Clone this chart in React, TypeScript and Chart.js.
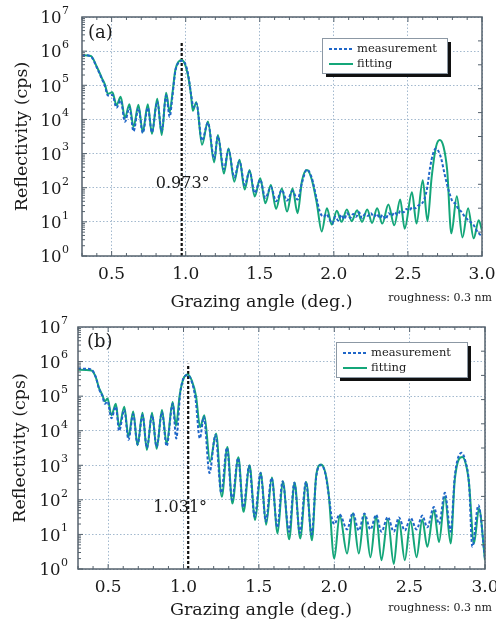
import React, { useEffect, useRef } from 'react';
import { Chart, registerables } from 'chart.js';

Chart.register(...registerables);

// ---------- data ----------
const X_TICKS = [0.5, 1.0, 1.5, 2.0, 2.5, 3.0];
const Y_TICKS = [1, 10, 100, 1e3, 1e4, 1e5, 1e6, 1e7];
const Y_TICK_BASE = '10';
const Y_TICK_EXP = ['0', '1', '2', '3', '4', '5', '6', '7'];
const LEGEND_LABELS = ['measurement', 'fitting'];
const X_TITLE = 'Grazing angle (deg.)';
const Y_TITLE = 'Reflectivity (cps)';
const NOTE = 'roughness: 0.3 nm';

// panel (a)
const A_PEAK = 0.973;
const A_PEAK_LABEL = '0.973°';
const A_FIT_X = [0.30, 0.36, 0.40, 0.435, 0.455, 0.475, 0.505, 0.533, 0.561, 0.59, 0.62, 0.648, 0.681, 0.71, 0.744, 0.772, 0.808, 0.838, 0.868, 0.892, 0.91, 0.93, 0.95, 0.972, 0.995, 1.015, 1.035, 1.048, 1.072, 1.11, 1.15, 1.192, 1.217, 1.258, 1.289, 1.328, 1.363, 1.398, 1.431, 1.466, 1.503, 1.538, 1.575, 1.61, 1.649, 1.684, 1.721, 1.755, 1.785, 1.818, 1.85, 1.885, 1.918, 1.953, 1.986, 2.02, 2.052, 2.088, 2.12, 2.157, 2.19, 2.225, 2.258, 2.292, 2.327, 2.368, 2.408, 2.448, 2.478, 2.527, 2.558, 2.60, 2.632, 2.66, 2.69, 2.715, 2.74, 2.765, 2.793, 2.83, 2.868, 2.906, 2.944, 2.978, 3.0];
const A_FIT_Y = [7.6e5, 7.2e5, 3.5e5, 1.6e5, 1.05e5, 5.6e4, 6.3e4, 2.6e4, 4.6e4, 1.1e4, 2.8e4, 6.0e3, 2.7e4, 4.2e3, 2.8e4, 3.8e3, 4.0e4, 3.5e3, 6.0e4, 1.6e4, 5.6e4, 2.8e5, 4.8e5, 5.5e5, 4.2e5, 2.0e5, 5.6e4, 1.8e4, 3.2e4, 1.8e3, 8.7e3, 5.5e2, 3.5e3, 2.6e2, 1.4e3, 1.5e2, 6.6e2, 89, 3.3e2, 55, 1.9e2, 35, 1.2e2, 24, 95, 20, 95, 18, 1.6e2, 3.3e2, 1.8e2, 35, 5.2, 25, 8.3, 21, 10, 23, 10.5, 22, 10, 23, 9.3, 25, 8.9, 32, 7.9, 45, 6.3, 74, 8.9, 166, 10.5, 200, 1.6e3, 2.5e3, 1.6e3, 3.2e2, 4.6, 56, 3.5, 25, 3.3, 11.2, 5.6];
const A_MEAS_X = [0.30, 0.36, 0.40, 0.435, 0.455, 0.475, 0.505, 0.533, 0.561, 0.59, 0.62, 0.648, 0.681, 0.71, 0.744, 0.772, 0.808, 0.838, 0.868, 0.892, 0.91, 0.93, 0.95, 0.975, 0.998, 1.018, 1.038, 1.052, 1.072, 1.11, 1.15, 1.192, 1.217, 1.258, 1.289, 1.328, 1.363, 1.398, 1.431, 1.466, 1.503, 1.538, 1.575, 1.61, 1.649, 1.684, 1.721, 1.755, 1.785, 1.818, 1.85, 1.885, 1.905, 1.93, 1.95, 1.97, 1.99, 2.01, 2.03, 2.05, 2.07, 2.09, 2.11, 2.13, 2.15, 2.17, 2.19, 2.21, 2.23, 2.25, 2.27, 2.29, 2.31, 2.33, 2.35, 2.37, 2.39, 2.41, 2.43, 2.45, 2.47, 2.49, 2.51, 2.53, 2.55, 2.57, 2.59, 2.61, 2.63, 2.65, 2.67, 2.688, 2.705, 2.725, 2.745, 2.765, 2.785, 2.80, 2.82, 2.84, 2.86, 2.88, 2.90, 2.92, 2.94, 2.96, 2.98, 3.0];
const A_MEAS_Y = [7.7e5, 7.0e5, 3.3e5, 1.5e5, 9.5e4, 5.0e4, 5.2e4, 2.2e4, 3.6e4, 8.5e3, 2.2e4, 4.5e3, 2.1e4, 4.0e3, 2.2e4, 4.2e3, 3.3e4, 4.5e3, 5.0e4, 1.2e4, 4.6e4, 2.6e5, 4.5e5, 5.2e5, 4.2e5, 1.9e5, 4.8e4, 2.3e4, 3.0e4, 2.4e3, 8.0e3, 7.0e2, 3.2e3, 3.5e2, 1.3e3, 2.0e2, 6.0e2, 1.2e2, 3.0e2, 70, 1.7e2, 50, 1.05e2, 40, 85, 42, 80, 45, 1.4e2, 3.4e2, 2.0e2, 45, 20, 14, 17, 12, 9, 14, 11, 16, 12, 18, 13, 17, 14, 19, 13, 17, 15, 18, 14, 17, 13, 16, 12, 18, 15, 19, 16, 21, 19, 24, 22, 27, 25, 30, 33, 45, 1.0e2, 4.0e2, 1.0e3, 1.4e3, 1.2e3, 7.0e2, 2.8e2, 1.2e2, 60, 40, 34, 24, 20, 15, 12, 10, 8.5, 6.0, 4.5, 3.8];

// panel (b)
const B_PEAK = 1.031;
const B_PEAK_LABEL = '1.031°';
const B_FIT_X = [0.30, 0.39, 0.418, 0.44, 0.462, 0.478, 0.496, 0.522, 0.551, 0.573, 0.607, 0.635, 0.666, 0.695, 0.728, 0.757, 0.791, 0.822, 0.857, 0.888, 0.928, 0.95, 0.975, 1.0, 1.028, 1.055, 1.083, 1.11, 1.138, 1.176, 1.216, 1.254, 1.291, 1.324, 1.364, 1.398, 1.438, 1.475, 1.513, 1.548, 1.586, 1.624, 1.659, 1.701, 1.737, 1.774, 1.814, 1.852, 1.88, 1.912, 1.94, 1.963, 2.0, 2.036, 2.085, 2.123, 2.163, 2.20, 2.24, 2.278, 2.313, 2.355, 2.395, 2.429, 2.468, 2.506, 2.546, 2.584, 2.617, 2.661, 2.695, 2.734, 2.772, 2.80, 2.85, 2.875, 2.894, 2.927, 2.96, 3.0];
const B_FIT_Y = [5.8e5, 5.5e5, 3.5e5, 1.7e5, 1.07e5, 7.1e4, 8.5e4, 2.8e4, 6.0e4, 1.3e4, 4.9e4, 6.6e3, 3.6e4, 3.8e3, 3.3e4, 2.8e3, 3.3e4, 3.0e3, 4.0e4, 4.2e3, 6.8e4, 1.4e4, 1.1e5, 3.2e5, 4.2e5, 2.8e5, 1.0e5, 1.26e4, 2.8e4, 1.26e3, 8.3e3, 1.23e2, 3.4e3, 78, 1.7e3, 45, 1.0e3, 26, 6.2e2, 19, 4.4e2, 10.7, 3.5e2, 7.2, 3.2e2, 7.6, 3.3e2, 6.8, 5.0e2, 1.05e3, 6.3e2, 1.5e2, 2.0, 36, 2.8, 40, 2.8, 39, 2.2, 34, 1.8, 27, 1.4, 26, 1.8, 24, 2.2, 27, 4.4, 50, 6.0, 1.23e2, 5.5, 4.0e2, 1.74e3, 1.0e3, 3.0e2, 5.5, 56, 1.8];
const B_MEAS_X = [0.30, 0.35, 0.39, 0.418, 0.44, 0.462, 0.478, 0.496, 0.522, 0.551, 0.573, 0.607, 0.635, 0.666, 0.695, 0.728, 0.757, 0.791, 0.822, 0.857, 0.888, 0.928, 0.952, 0.978, 1.0, 1.025, 1.05, 1.08, 1.108, 1.135, 1.172, 1.212, 1.25, 1.288, 1.322, 1.362, 1.396, 1.436, 1.472, 1.511, 1.546, 1.584, 1.622, 1.657, 1.70, 1.735, 1.772, 1.812, 1.85, 1.88, 1.91, 1.94, 1.965, 1.985, 2.0, 2.036, 2.085, 2.123, 2.163, 2.20, 2.24, 2.278, 2.313, 2.355, 2.395, 2.429, 2.468, 2.506, 2.546, 2.584, 2.617, 2.661, 2.695, 2.734, 2.772, 2.80, 2.845, 2.87, 2.894, 2.916, 2.956, 3.0];
const B_MEAS_Y = [6.3e5, 6.2e5, 5.8e5, 3.6e5, 1.6e5, 1.0e5, 6.0e4, 7.0e4, 2.3e4, 5.0e4, 1.0e4, 4.0e4, 5.5e3, 3.0e4, 4.0e3, 2.8e4, 3.2e3, 2.8e4, 3.4e3, 3.4e4, 3.6e3, 6.0e4, 6.0e3, 1.2e5, 3.3e5, 4.0e5, 3.0e5, 8.0e4, 6.0e3, 2.5e4, 6.0e2, 7.5e3, 1.6e2, 3.2e3, 1.0e2, 1.6e3, 60, 9.5e2, 32, 6.0e2, 24, 4.3e2, 16, 3.4e2, 12, 3.1e2, 11, 3.3e2, 10, 4.5e2, 1.0e3, 6.0e2, 1.2e2, 28, 20, 38, 14, 42, 13, 40, 14, 37, 12, 32, 12, 31, 13, 30, 14, 35, 16, 62, 20, 1.6e2, 12, 5.0e2, 2.3e3, 1.3e3, 3.0e2, 4.4, 70, 2.0];

// ---------- styles ----------
const FONT = '"DejaVu Serif", serif';
const BLUE = '#1f66c8';
const GREEN = '#14a679';
const GRID = '#a3b9ce';
const FRAME = '#55626d';
const TEXT = '#1a1a1a';

const toPoints = (xs: number[], ys: number[]) => xs.map((x, i) => ({ x, y: ys[i] }));

type PanelCfg = {
  top: number; height: number; padTop: number; padRight: number; yWidth: number; xHeight: number;
  yTickPad: number; yTitlePad: number; xTickPad: number; xTitleY: number; noteY: number;
  tag: string; tagX: number; tagY: number;
  peakX: number; peakTop: number; peakText: string; peakTextY: number; peakTextDx: number;
  legend: { left: number; top: number; w: number; h: number };
  measX: number[]; measY: number[]; fitX: number[]; fitY: number[];
};

const PANEL_A: PanelCfg = {
  top: 0, height: 314, padTop: 17, padRight: 14, yWidth: 82, xHeight: 58,
  yTickPad: 13, yTitlePad: 11.5, xTickPad: 8.5, xTitleY: 302, noteY: 298,
  tag: '(a)', tagX: 88, tagY: 33,
  peakX: A_PEAK, peakTop: 1.9e6, peakText: A_PEAK_LABEL, peakTextY: 126, peakTextDx: 1,
  legend: { left: 322, top: 38, w: 125, h: 35 },
  measX: A_MEAS_X, measY: A_MEAS_Y, fitX: A_FIT_X, fitY: A_FIT_Y,
};

const PANEL_B: PanelCfg = {
  top: 314, height: 311, padTop: 13, padRight: 11, yWidth: 78, xHeight: 56,
  yTickPad: 10, yTitlePad: 10, xTickPad: 8, xTitleY: 296, noteY: 294,
  tag: '(b)', tagX: 87, tagY: 28,
  peakX: B_PEAK, peakTop: 8.7e5, peakText: B_PEAK_LABEL, peakTextY: 59, peakTextDx: -8,
  legend: { left: 336, top: 28, w: 131, h: 35 },
  measX: B_MEAS_X, measY: B_MEAS_Y, fitX: B_FIT_X, fitY: B_FIT_Y,
};

function makeDecor(cfg: PanelCfg) {
  return {
    id: 'decor',
    afterDraw(chart: any) {
      const { ctx, chartArea: ca, scales } = chart;
      const xs = scales.x;
      const ys = scales.y;
      const line = (x1: number, y1: number, x2: number, y2: number) => {
        ctx.beginPath(); ctx.moveTo(x1, y1); ctx.lineTo(x2, y2); ctx.stroke();
      };
      ctx.save();
      // frame
      ctx.strokeStyle = FRAME;
      ctx.lineWidth = 1.5;
      ctx.setLineDash([]);
      ctx.strokeRect(ca.left, ca.top, ca.right - ca.left, ca.bottom - ca.top);
      // inner ticks
      ctx.lineWidth = 1;
      for (let k = 3; k <= 30; k++) {
        const px = xs.getPixelForValue(k / 10);
        const len = k % 5 === 0 ? 5 : 3;
        line(px, ca.bottom, px, ca.bottom - len);
        line(px, ca.top, px, ca.top + len);
      }
      for (let e = 0; e < 7; e++) {
        for (let m = 1; m <= 9; m++) {
          const py = ys.getPixelForValue(m * Math.pow(10, e));
          line(ca.left, py, ca.left + (m === 1 ? 5 : 3), py);
        }
      }
      for (let i = 1; i < 10; i++) {
        const py = ca.top + ((ca.bottom - ca.top) * i) / 10;
        line(ca.right, py, ca.right - 4, py);
      }
      // y tick labels 10^n
      ctx.fillStyle = TEXT;
      ctx.textBaseline = 'middle';
      Y_TICKS.forEach((v, i) => {
        const py = ys.getPixelForValue(v);
        const R = ca.left - cfg.yTickPad;
        ctx.font = `11px ${FONT}`;
        const ew = ctx.measureText(Y_TICK_EXP[i]).width;
        ctx.textAlign = 'left';
        ctx.fillText(Y_TICK_EXP[i], R - ew, py - 6);
        ctx.font = `16.5px ${FONT}`;
        ctx.textAlign = 'right';
        ctx.fillText(Y_TICK_BASE, R - ew - 0.5, py + 2);
      });
      // texts
      ctx.textAlign = 'left';
      ctx.font = `18px ${FONT}`;
      ctx.fillText(cfg.tag, cfg.tagX, cfg.tagY);
      ctx.textAlign = 'center';
      ctx.font = `16px ${FONT}`;
      ctx.fillText(cfg.peakText, xs.getPixelForValue(cfg.peakX) + cfg.peakTextDx, ys.getPixelForValue(cfg.peakTextY));
      ctx.font = `17.5px ${FONT}`;
      ctx.fillText(X_TITLE, (ca.left + ca.right) / 2 - 20.5, cfg.xTitleY);
      ctx.textAlign = 'right';
      ctx.font = `11px ${FONT}`;
      ctx.fillText(NOTE, 492, cfg.noteY);
      // legend
      const L = cfg.legend.left, T = cfg.legend.top, W = cfg.legend.w, H = cfg.legend.h;
      ctx.fillStyle = '#111';
      ctx.fillRect(L + 4, T + 4, W, H);
      ctx.fillStyle = '#ffffff';
      ctx.fillRect(L, T, W, H);
      ctx.strokeStyle = '#8c98a4';
      ctx.lineWidth = 1;
      ctx.strokeRect(L + 0.5, T + 0.5, W, H);
      ctx.lineWidth = 2;
      ctx.strokeStyle = BLUE;
      ctx.setLineDash([3, 2]);
      line(L + 7, T + 11, L + 31, T + 11);
      ctx.setLineDash([]);
      ctx.strokeStyle = GREEN;
      line(L + 7, T + 26, L + 31, T + 26);
      ctx.fillStyle = '#222';
      ctx.textAlign = 'left';
      ctx.font = `11.5px ${FONT}`;
      ctx.fillText(LEGEND_LABELS[0], L + 35, T + 11);
      ctx.fillText(LEGEND_LABELS[1], L + 35, T + 26);
      ctx.restore();
    },
  };
}

function Panel({ cfg }: { cfg: PanelCfg }) {
  const ref = useRef<HTMLCanvasElement>(null);
  useEffect(() => {
    const chart = new Chart(ref.current as HTMLCanvasElement, {
      type: 'line',
      data: {
        datasets: [
          {
            label: LEGEND_LABELS[0],
            data: toPoints(cfg.measX, cfg.measY),
            borderColor: BLUE,
            borderWidth: 2,
            borderDash: [3, 2],
            pointRadius: 0,
            cubicInterpolationMode: 'monotone',
            fill: false,
          },
          {
            label: LEGEND_LABELS[1],
            data: toPoints(cfg.fitX, cfg.fitY),
            borderColor: GREEN,
            borderWidth: 2,
            pointRadius: 0,
            cubicInterpolationMode: 'monotone',
            fill: false,
          },
          {
            label: 'peak',
            data: [{ x: cfg.peakX, y: 1 }, { x: cfg.peakX, y: cfg.peakTop }],
            borderColor: '#111',
            borderWidth: 2.2,
            borderDash: [3, 2],
            pointRadius: 0,
            fill: false,
          },
        ],
      },
      options: {
        animation: false,
        responsive: false,
        maintainAspectRatio: false,
        devicePixelRatio: 1,
        events: [],
        layout: { padding: { top: cfg.padTop, right: cfg.padRight, left: 0, bottom: 0 } },
        plugins: { legend: { display: false }, tooltip: { enabled: false } },
        scales: {
          x: {
            type: 'linear',
            min: 0.3,
            max: 3.0,
            afterBuildTicks: (s: any) => { s.ticks = X_TICKS.map((v) => ({ value: v })); },
            afterFit: (s: any) => { s.height = cfg.xHeight; s.paddingLeft = 0; s.paddingRight = 0; },
            ticks: {
              padding: cfg.xTickPad,
              maxRotation: 0,
              autoSkip: false,
              color: TEXT,
              font: { family: FONT, size: 17 },
              callback: (v: any) => Number(v).toFixed(1),
            },
            grid: { color: GRID, lineWidth: 1, drawTicks: false },
            border: { display: false, dash: [1.5, 2] },
          },
          y: {
            type: 'logarithmic',
            min: 1,
            max: 1e7,
            afterBuildTicks: (s: any) => { s.ticks = Y_TICKS.map((v) => ({ value: v })); },
            afterFit: (s: any) => { s.width = cfg.yWidth; },
            ticks: { display: false },
            title: {
              display: true,
              text: Y_TITLE,
              color: TEXT,
              padding: { top: cfg.yTitlePad, bottom: 0 },
              font: { family: FONT, size: 17.5 },
            },
            grid: { color: GRID, lineWidth: 1, drawTicks: false },
            border: { display: false, dash: [1.5, 2] },
          },
        },
      },
      plugins: [makeDecor(cfg)],
    } as any);
    return () => chart.destroy();
  }, [cfg]);
  return (
    <canvas
      ref={ref}
      width={496}
      height={cfg.height}
      style={{ position: 'absolute', left: 0, top: cfg.top, width: 496, height: cfg.height }}
    />
  );
}

export default function App() {
  return (
    <div style={{ position: 'absolute', left: 0, top: 0, width: 496, height: 625, background: '#fff' }}>
      <Panel cfg={PANEL_A} />
      <Panel cfg={PANEL_B} />
    </div>
  );
}
